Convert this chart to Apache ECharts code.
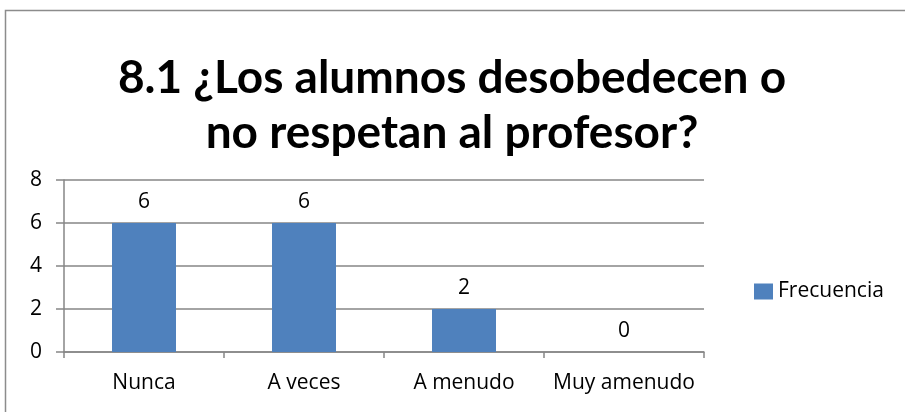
<!DOCTYPE html>
<html>
<head>
<meta charset="utf-8">
<script src="https://cdn.jsdelivr.net/npm/echarts@6/dist/echarts.min.js"></script>
<style>
  html, body { margin: 0; padding: 0; background: #fff; }
  #chart { width: 905px; height: 412px; }
</style>
</head>
<body>
<div id="chart"></div>
<script>
// datos
const categories = ['Nunca', 'A veces', 'A menudo', 'Muy amenudo']
const frecuencia = [6, 6, 2, 0]
const yTicks = { min: 0, max: 8, interval: 2 }
const titleText = '8.1 ¿Los alumnos desobedecen o\nno respetan al profesor?'
const seriesName = 'Frecuencia'

const font = 'Open Sans'
const titleFont = 'Lato'
const myChart = echarts.init(document.getElementById('chart'))

const options = {
  animation: false,
  backgroundColor: '#fff',
  graphic: [
    {
      type: 'rect',
      shape: { x: 5.5, y: 10.5, width: 920, height: 420 },
      style: { fill: 'none', stroke: '#8c8c8c', lineWidth: 1.5 },
      silent: true
    }
  ],
  title: {
    text: titleText,
    left: 447,
    top: 46,
    textAlign: 'center',
    textStyle: {
      fontFamily: titleFont,
      fontWeight: 'bold',
      fontSize: 46,
      lineHeight: 55,
      color: '#000'
    }
  },
  legend: {
    left: 749,
    top: 276,
    itemWidth: 19,
    itemHeight: 16,
    itemGap: 6,
    icon: 'rect',
    textStyle: { fontFamily: font, fontSize: 21, color: '#000' },
    data: [seriesName]
  },
  grid: {
    left: 64,
    top: 180,
    width: 640,
    height: 172
  },
  xAxis: {
    type: 'category',
    data: categories,
    axisLine: { lineStyle: { color: '#868686', width: 1.5 } },
    axisTick: { show: true, length: 6, lineStyle: { color: '#868686', width: 1.5 } },
    axisLabel: { interval: 0, margin: 21, fontFamily: font, fontSize: 21, color: '#000' }
  },
  yAxis: {
    type: 'value',
    min: yTicks.min,
    max: yTicks.max,
    interval: yTicks.interval,
    axisLine: { show: true, lineStyle: { color: '#868686', width: 1.5 } },
    axisTick: { show: true, length: 8, lineStyle: { color: '#868686', width: 1.5 } },
    splitLine: { lineStyle: { color: '#868686', width: 1.5 } },
    axisLabel: { margin: 22, fontFamily: font, fontSize: 21, color: '#000' }
  },
  series: [
    {
      name: seriesName,
      type: 'bar',
      data: frecuencia,
      barWidth: '40%',
      itemStyle: { color: '#4f81bd' },
      label: {
        show: true,
        position: 'top',
        distance: 10,
        fontFamily: font,
        fontSize: 21,
        color: '#000'
      }
    }
  ]
}

myChart.setOption(options)
</script>
</body>
</html>
